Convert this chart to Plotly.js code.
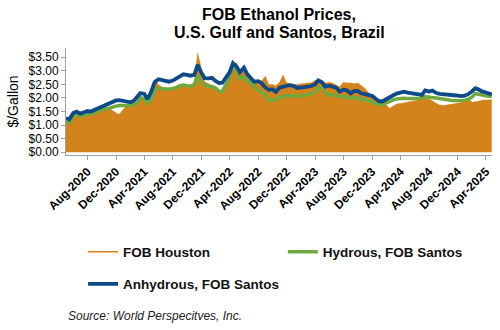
<!DOCTYPE html>
<html>
<head>
<meta charset="utf-8">
<script src="https://cdn.plot.ly/plotly-3.0.1.min.js"></script>
<style>
html,body{margin:0;padding:0;background:#fff;}
#chart{width:500px;height:330px;}
</style>
</head>
<body>
<div id="chart"></div>
<script>
const dates = [
'2020-05-01','2020-05-15','2020-06-01','2020-06-15','2020-07-01','2020-07-15','2020-08-01','2020-08-15','2020-09-01','2020-09-15','2020-10-01','2020-10-15','2020-11-01','2020-11-15','2020-12-01','2020-12-15',
'2021-01-01','2021-01-15','2021-02-01','2021-02-15','2021-03-01','2021-03-15','2021-04-01','2021-04-15','2021-05-01','2021-05-15','2021-06-01','2021-06-15','2021-07-01','2021-07-15','2021-08-01','2021-08-15','2021-09-01','2021-09-15','2021-10-01','2021-10-15','2021-11-01','2021-11-15','2021-12-01','2021-12-15',
'2022-01-01','2022-01-15','2022-02-01','2022-02-15','2022-03-01','2022-03-15','2022-04-01','2022-04-15','2022-05-01','2022-05-15','2022-06-01','2022-06-15','2022-07-01','2022-07-15','2022-08-01','2022-08-15','2022-09-01','2022-09-15','2022-10-01','2022-10-15','2022-11-01','2022-11-15','2022-12-01','2022-12-15',
'2023-01-01','2023-01-15','2023-02-01','2023-02-15','2023-03-01','2023-03-15','2023-04-01','2023-04-15','2023-05-01','2023-05-15','2023-06-01','2023-06-15','2023-07-01','2023-07-15','2023-08-01','2023-08-15','2023-09-01','2023-09-15','2023-10-01','2023-10-15','2023-11-01','2023-11-15','2023-12-01','2023-12-15',
'2024-01-01','2024-01-15','2024-02-01','2024-02-15','2024-03-01','2024-03-15','2024-04-01','2024-04-15','2024-05-01','2024-05-15','2024-06-01','2024-06-15','2024-07-01','2024-07-15','2024-08-01','2024-08-15','2024-09-01','2024-09-15','2024-10-01','2024-10-15','2024-11-01','2024-11-15','2024-12-01','2024-12-15',
'2025-01-01','2025-01-15','2025-02-01','2025-02-15','2025-03-01','2025-03-15','2025-04-01','2025-04-15','2025-04-26'
];

const fobHouston = [
1.10,1.12,1.30,1.36,1.30,1.40,1.55,1.40,1.45,1.52,1.57,1.60,1.63,1.55,1.45,1.40,
1.58,1.72,1.72,1.74,1.80,2.02,2.00,1.75,2.00,2.68,2.48,2.40,2.37,2.35,2.38,2.42,2.45,2.46,2.48,2.45,2.60,3.65,3.10,2.60,
2.52,2.45,2.30,2.22,2.25,2.50,2.75,3.15,3.30,2.90,3.00,2.78,2.65,2.55,2.60,2.62,2.80,2.50,2.50,2.45,2.58,2.85,2.55,2.52,
2.50,2.50,2.52,2.55,2.55,2.55,2.65,2.62,2.60,2.55,2.58,2.55,2.48,2.40,2.58,2.55,2.55,2.52,2.55,2.45,2.35,2.20,2.05,1.95,
1.88,1.82,1.72,1.62,1.70,1.78,1.80,1.82,1.84,1.86,1.88,1.92,2.15,2.02,1.95,1.90,1.80,1.74,1.72,1.74,1.75,1.76,1.80,1.82,
1.92,1.98,1.84,1.85,1.88,1.92,1.93,1.92,1.93
];

const hydrousSantos = [
1.12,1.09,1.35,1.43,1.32,1.38,1.41,1.40,1.46,1.52,1.55,1.60,1.62,1.67,1.70,1.72,
1.72,1.72,1.72,1.76,1.82,2.03,1.95,1.80,1.95,2.28,2.36,2.34,2.32,2.32,2.35,2.38,2.45,2.48,2.45,2.44,2.48,2.81,2.60,2.48,
2.43,2.42,2.36,2.23,2.25,2.45,2.75,3.15,3.05,2.70,2.78,2.62,2.55,2.43,2.28,2.22,2.12,1.93,1.90,1.95,2.02,2.07,2.08,2.07,
2.06,2.07,2.07,2.09,2.12,2.15,2.22,2.38,2.40,2.18,2.12,2.11,2.09,2.05,2.06,2.04,1.99,2.02,2.01,1.94,1.95,1.90,1.85,1.79,
1.75,1.76,1.83,1.89,1.93,1.96,1.98,1.99,1.98,1.97,1.97,1.98,1.99,2.05,2.03,2.03,2.00,1.98,1.95,1.93,1.92,1.91,1.90,1.90,
1.92,1.95,2.04,2.16,2.14,2.10,2.08,2.06,2.05
];

const anhydrousSantos = [
1.25,1.21,1.45,1.50,1.42,1.45,1.52,1.50,1.56,1.64,1.68,1.75,1.80,1.86,1.91,1.92,
1.88,1.86,1.84,1.90,2.05,2.18,2.15,1.95,2.25,2.58,2.69,2.67,2.63,2.60,2.64,2.72,2.83,2.87,2.85,2.82,2.85,3.22,2.93,2.73,
2.72,2.74,2.62,2.55,2.56,2.72,2.95,3.28,3.15,2.95,3.12,2.88,2.72,2.60,2.62,2.55,2.38,2.30,2.32,2.22,2.38,2.43,2.45,2.47,
2.44,2.37,2.38,2.40,2.42,2.44,2.50,2.65,2.58,2.42,2.45,2.42,2.38,2.23,2.30,2.28,2.17,2.25,2.26,2.17,2.15,2.12,2.08,1.98,
1.88,1.88,1.97,2.05,2.10,2.16,2.20,2.23,2.20,2.18,2.16,2.15,2.11,2.28,2.24,2.27,2.18,2.15,2.13,2.11,2.11,2.10,2.09,2.07,
2.09,2.14,2.25,2.36,2.31,2.24,2.20,2.16,2.13
];

const seriesNames = ['FOB Houston','Hydrous, FOB Santos','Anhydrous, FOB Santos'];
const yTickVals = [0,0.5,1,1.5,2,2.5,3,3.5];
const xTickVals = ['2020-08-01','2020-12-01','2021-04-01','2021-08-01','2021-12-01','2022-04-01','2022-08-01','2022-12-01','2023-04-01','2023-08-01','2023-12-01','2024-04-01','2024-08-01','2024-12-01','2025-04-01'];
const xTickText = ['Aug-2020','Dec-2020','Apr-2021','Aug-2021','Dec-2021','Apr-2022','Aug-2022','Dec-2022','Apr-2023','Aug-2023','Dec-2023','Apr-2024','Aug-2024','Dec-2024','Apr-2025'];

const ORANGE = '#D3831B', GREEN = '#6FA83E', BLUE = '#0E4A8A';
const FONT = 'Liberation Sans, Arial, sans-serif';

const traces = [
  {x: dates, y: fobHouston, type: 'scatter', mode: 'lines', fill: 'tozeroy',
   fillcolor: ORANGE, line: {color: ORANGE, width: 0.5}, showlegend: false, name: seriesNames[0]},
  {x: [null], y: [null], type: 'scatter', mode: 'lines', line: {color: ORANGE, width: 1.5},
   name: seriesNames[0], legend: 'legend'},
  {x: dates, y: hydrousSantos, type: 'scatter', mode: 'lines', line: {color: GREEN, width: 3.5},
   name: seriesNames[1], legend: 'legend3'},
  {x: dates, y: anhydrousSantos, type: 'scatter', mode: 'lines', line: {color: BLUE, width: 3.8},
   name: seriesNames[2], legend: 'legend2'}
];

const legendCommon = {orientation: 'h', xanchor: 'left', yanchor: 'middle',
  font: {family: FONT, size: 13.5, color: '#111', weight: 'bold'}, bgcolor: 'rgba(0,0,0,0)'};

const layout = {
  width: 500, height: 330,
  margin: {l: 66, r: 8, t: 48, b: 175},
  paper_bgcolor: '#fff', plot_bgcolor: '#fff',
  font: {family: FONT, color: '#000'},
  title: {text: 'FOB Ethanol Prices,', font: {family: FONT, size: 16, weight: 'bold', color: '#000'},
          x: 0.5, xref: 'paper', xanchor: 'center', y: 1 - 14/330, yref: 'container', yanchor: 'middle'},
  xaxis: {type: 'date', range: ['2020-05-01','2025-04-27'], tickvals: xTickVals, ticktext: xTickText,
          tickangle: -45, tickfont: {family: FONT, size: 12, weight: 'bold', color: '#000'},
          ticks: 'outside', ticklen: 4, tickcolor: '#A0A0A0', showline: true, linecolor: '#A0A0A0', linewidth: 1,
          showgrid: false, zeroline: false},
  yaxis: {range: [-0.1, 3.84], tickvals: yTickVals, tickformat: '$.2f',
          tickfont: {family: FONT, size: 12, color: '#000'},
          ticks: 'outside', ticklen: 4, tickcolor: '#A0A0A0', showline: true, linecolor: '#A0A0A0', linewidth: 1,
          showgrid: false, zeroline: false,
          title: {text: '$/Gallon', font: {family: FONT, size: 14, color: '#000'}, standoff: 6}, automargin: true},
  legend: Object.assign({}, legendCommon, {x: 0.04, y: (155-252)/107}),
  legend3: Object.assign({}, legendCommon, {x: 0.509, y: (155-252)/107}),
  legend2: Object.assign({}, legendCommon, {x: 0.04, y: (155-284)/107}),
  annotations: [
    {text: 'U.S. Gulf and Santos, Brazil', xref: 'paper', yref: 'paper', x: 0.5, y: (155-32)/107,
     xanchor: 'center', yanchor: 'middle', showarrow: false,
     font: {family: FONT, size: 16, weight: 'bold', color: '#000'}},
    {text: 'Source: World Perspecitves, Inc.', xref: 'paper', yref: 'paper', x: 0.0, y: (155-316)/107,
     xanchor: 'left', yanchor: 'middle', showarrow: false,
     font: {family: FONT, size: 12, style: 'italic', color: '#222'}}
  ]
};

Plotly.newPlot('chart', traces, layout, {displayModeBar: false, staticPlot: true});
</script>
</body>
</html>
